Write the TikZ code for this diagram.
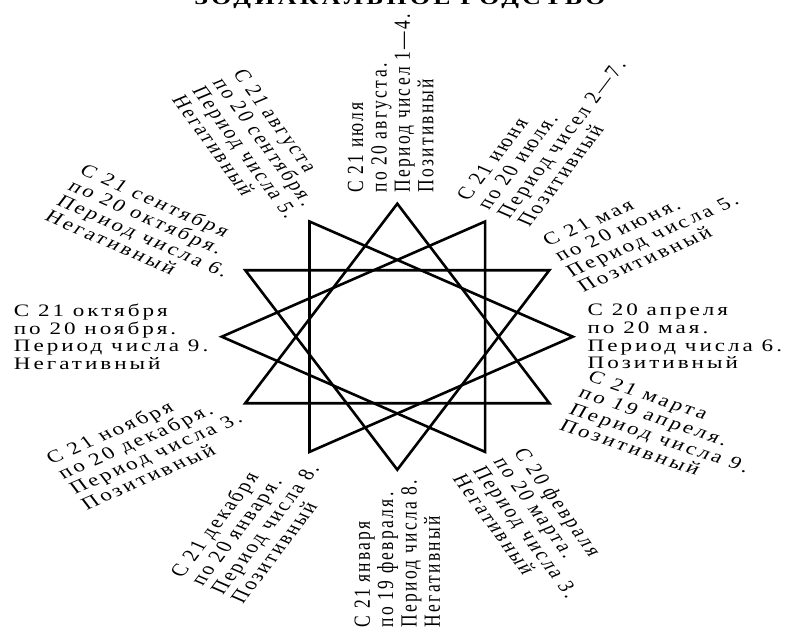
\documentclass[tikz,border=0pt]{standalone}
\usepackage{fontspec}
\setmainfont{Liberation Serif}[LetterSpace=13]
\begin{document}
\begin{tikzpicture}[x=1pt,y=1pt,
  lbl/.style={inner sep=0pt,align=left,font=\fontsize{17.5}{17.7}\selectfont},
  starline/.style={line width=2.6pt}]
\useasboundingbox (0,-635) rectangle (787,0);
\clip (0,-635) rectangle (787,0);
\begin{scope}[shift={(397.3,-336.7)},xscale=1.32,transform shape]
\node[font=\bfseries\fontsize{19.5}{22}\selectfont,anchor=base] (title) at (2,332.5) {ЗОДИАКАЛЬНОЕ РОДСТВО};
% star of four triangles
\foreach \a in {90,60,30,0} \draw[starline] (\a:133)--(\a+120:133)--(\a+240:133)--cycle;
% right half, text runs outward from the star
\foreach \p/\d/\r/\txt in {92/144/90/{С 21 июля\\по 20 августа.\\Период чисел 1—4.\\Позитивный},
  60/144/60/{С 21 июня\\по 20 июля.\\Период чисел 2—7.\\Позитивный},
  30/144/30/{С 21 мая\\по 20 июня.\\Период числа 5.\\Позитивный},
  0/144/0/{С 20 апреля\\по 20 мая.\\Период числа 6.\\Позитивный},
  -25/149/-24/{С 21 марта\\по 19 апреля.\\Период числа 9.\\Позитивный},
  -61/144/-61/{С 20 февраля\\по 20 марта.\\Период числа 3.\\Негативный}}
  \node[lbl,rotate=\r,anchor=west] (m\p) at (\p:\d) {\txt};
% left half, text runs in towards the star
\foreach \p/\r/\txt in {120/-61/{С 21 августа\\по 20 сентября.\\Период числа 5.\\Негативный},
  150/-30/{С 21 сентября\\по 20 октября.\\Период числа 6.\\Негативный},
  180/0/{С 21 октября\\по 20 ноября.\\Период числа 9.\\Негативный},
  -150/30/{С 21 ноября\\по 20 декабря.\\Период числа 3.\\Позитивный},
  -120/60/{С 21 декабря\\по 20 января.\\Период числа 8.\\Позитивный},
  -90/90/{С 21 января\\по 19 февраля.\\Период числа 8.\\Негативный}}
  \node[lbl,rotate=\r,anchor=east] (m\p) at (\p:143) {\txt};
\end{scope}
\end{tikzpicture}
\end{document}
